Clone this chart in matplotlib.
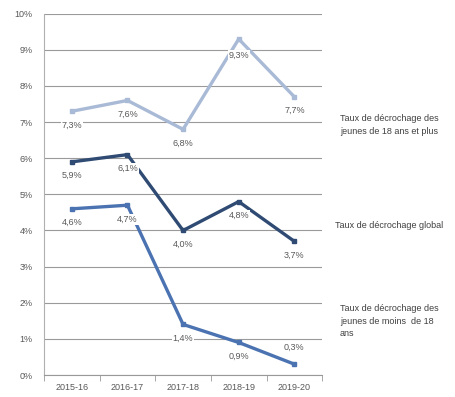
import matplotlib
matplotlib.use("Agg")
import matplotlib.pyplot as plt

plt.rcParams['font.family'] = ['Liberation Sans', 'DejaVu Sans']

years = ["2015-16", "2016-17", "2017-18", "2018-19", "2019-20"]
plus18 = [7.3, 7.6, 6.8, 9.3, 7.7]
global_rate = [5.9, 6.1, 4.0, 4.8, 3.7]
moins18 = [4.6, 4.7, 1.4, 0.9, 0.3]

names = ["Taux de décrochage des\njeunes de 18 ans et plus",
         "Taux de décrochage global",
         "Taux de décrochage des\njeunes de moins  de 18\nans"]
colors = ["#a9bad6", "#2f4b73", "#4b73b1"]

fig = plt.figure(figsize=(4.56, 3.97), dpi=100)
ax = fig.add_axes([0.0965, 0.0554, 0.61, 0.91])

x = list(range(len(years)))
series = [plus18, global_rate, moins18]
for vals, col in zip(series, colors):
    ax.plot(x, vals, color=col, lw=2.4, marker='s', ms=2.5, zorder=3)

def fmt(v):
    return ("%.1f%%" % v).replace(".", ",")

for vals in series:
    for i, v in enumerate(vals):
        off = -10
        if vals is moins18 and i == 4:
            off = 12
        if vals is plus18 and i == 3:
            off = -12
        ax.annotate(fmt(v), (i, v), xytext=(0, off), textcoords='offset points',
                    ha='center', va='center', fontsize=6.5, color='#595959',
                    bbox=dict(boxstyle='square,pad=0.1', fc='white', ec='none'),
                    zorder=4)

ax.set_xlim(-0.5, 4.5)
ax.set_ylim(0, 10)
ax.set_yticks(range(0, 11))
ax.set_yticklabels(["%d%%" % t for t in range(0, 11)])
ax.set_xticks(x)
ax.set_xticklabels(years)
ax.set_xticks([i - 0.5 for i in range(6)], minor=True)
ax.tick_params(axis='x', which='major', length=0, labelsize=6.5, colors='#595959', pad=6)
ax.tick_params(axis='x', which='minor', length=4, color='#999999')
ax.tick_params(axis='y', length=0, labelsize=6.5, colors='#595959', pad=8)
ax.grid(axis='y', color='#9a9a9a', lw=0.8)
ax.set_axisbelow(True)
for s in ['top', 'right']:
    ax.spines[s].set_visible(False)
ax.spines['left'].set_color('#b0b0b0')
ax.spines['bottom'].set_color('#999999')

fig.text(340 / 456, 1 - 125 / 397, names[0], fontsize=6.5, color='#404040', va='center', linespacing=1.5)
fig.text(335 / 456, 1 - 225 / 397, names[1], fontsize=6.5, color='#404040', va='center')
fig.text(340 / 456, 1 - 321 / 397, names[2], fontsize=6.5, color='#404040', va='center', linespacing=1.5)

fig.savefig("out.png", dpi=100)
